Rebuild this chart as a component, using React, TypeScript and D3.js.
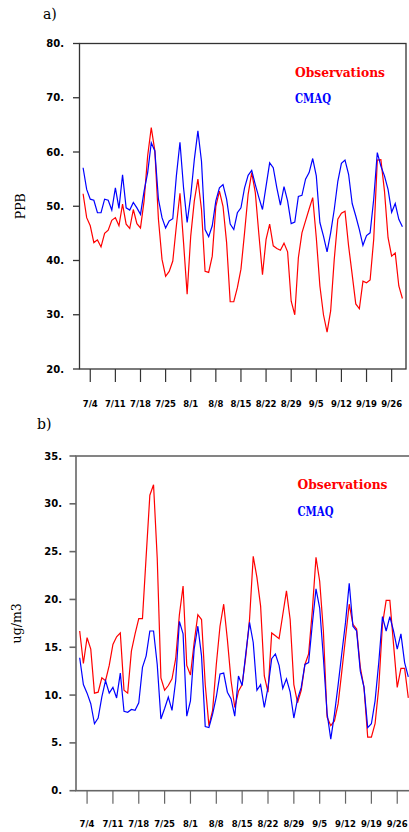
import React from "react";
import { scaleTime, scaleLinear, line, timeDay } from "d3";

// daily values, 7/2 through 9/29
const o3Obs = [
  52.3, 47.9, 46.4, 43.3, 43.8, 42.5, 45.0, 45.6, 47.4, 47.9,
  46.4, 50.4, 46.7, 45.9, 49.4, 46.8, 46.0, 51.0, 59.3, 64.5,
  60.2, 47.6, 40.2, 37.1, 38.0, 39.9, 46.4, 52.4, 43.3, 33.8,
  44.5, 51.0, 55.0, 49.4, 38.0, 37.8, 40.8, 50.0, 52.8, 50.0,
  43.3, 32.4, 32.4, 35.0, 38.4, 45.1, 52.2, 56.2, 52.5, 44.8,
  37.4, 43.9, 46.7, 42.7, 42.2, 41.9, 43.2, 41.6, 32.5, 30.0,
  40.5, 45.1, 47.3, 49.5, 51.6, 44.2, 35.3, 30.0, 26.8, 30.7,
  40.2, 47.6, 48.7, 49.1, 42.7, 37.4, 32.0, 31.1, 36.2, 35.9,
  36.4, 43.9, 58.5, 58.6, 52.8, 44.2, 40.8, 41.4, 35.3, 33.0,
];
const o3Cmaq = [
  57.1, 53.1, 51.3, 51.1, 48.8, 48.8, 51.3, 51.1, 49.3, 53.4,
  49.6, 55.8, 49.7, 49.3, 50.7, 49.7, 48.5, 52.8, 56.2, 61.7,
  60.2, 51.3, 47.9, 46.0, 47.3, 47.7, 55.6, 61.8, 53.4, 47.0,
  51.9, 58.6, 63.9, 58.3, 45.7, 44.4, 46.4, 51.0, 53.4, 54.0,
  51.3, 46.7, 45.7, 48.8, 49.7, 53.4, 55.7, 56.6, 54.0, 51.6,
  49.4, 53.7, 58.0, 57.1, 53.4, 50.2, 53.6, 51.0, 46.8, 47.1,
  51.8, 52.0, 55.0, 56.2, 58.8, 55.6, 47.0, 44.5, 41.6, 45.1,
  49.4, 54.6, 57.9, 58.5, 55.9, 50.5, 48.2, 45.7, 42.8, 44.6,
  45.1, 51.3, 59.9, 57.4, 55.6, 53.1, 48.9, 50.5, 47.6, 46.2,
];
const pmObs = [
  16.7, 13.3, 16.0, 14.8, 10.2, 10.3, 11.8, 11.5, 13.1, 15.3,
  16.1, 16.5, 10.5, 10.2, 14.6, 16.4, 18.0, 18.0, 24.5, 30.9,
  32.0, 24.3, 11.8, 10.5, 11.0, 11.7, 13.8, 18.4, 21.4, 13.1,
  12.1, 15.5, 18.4, 17.9, 11.1, 6.8, 8.4, 13.2, 17.2, 19.5,
  15.8, 11.5, 8.7, 10.4, 11.1, 14.1, 17.9, 24.5, 22.3, 19.3,
  12.0, 10.3, 16.5, 16.2, 15.9, 18.4, 20.9, 17.9, 11.1, 9.2,
  10.5, 13.2, 14.3, 18.8, 24.4, 21.9, 16.7, 7.7, 6.8, 7.3,
  9.1, 12.5, 16.0, 19.5, 17.4, 16.9, 12.9, 10.8, 5.6, 5.6,
  7.0, 10.8, 17.4, 19.9, 19.9, 15.3, 10.8, 12.8, 12.8, 9.7,
];
const pmCmaq = [
  13.9, 11.1, 10.2, 9.1, 7.0, 7.6, 9.8, 11.5, 10.2, 10.8,
  9.7, 12.3, 8.3, 8.2, 8.5, 8.4, 9.2, 12.9, 14.1, 16.7,
  16.7, 13.2, 7.5, 8.6, 9.8, 8.4, 11.5, 17.7, 16.4, 7.8,
  9.4, 14.8, 17.2, 14.1, 6.7, 6.6, 8.0, 9.8, 12.2, 12.3,
  10.3, 9.6, 7.8, 12.0, 11.0, 14.4, 17.6, 15.5, 10.5, 11.1,
  8.7, 10.8, 13.8, 14.3, 13.1, 10.7, 11.7, 10.3, 7.6, 9.6,
  10.8, 13.2, 13.4, 17.4, 21.1, 19.1, 13.9, 8.1, 5.4, 8.0,
  11.1, 14.4, 17.6, 21.7, 17.2, 16.7, 12.5, 10.8, 6.6, 7.0,
  9.4, 13.4, 18.2, 16.7, 18.2, 16.7, 14.8, 16.4, 13.4, 11.9,
];

const tickLabels = ["7/4", "7/11", "7/18", "7/25", "8/1", "8/8", "8/15", "8/22", "8/29", "9/5", "9/12", "9/19", "9/26"];
const o3Ticks = [20, 30, 40, 50, 60, 70, 80];
const pmTicks = [0, 5, 10, 15, 20, 25, 30, 35];

const YEAR = 2001;
const firstDay = new Date(YEAR, 6, 2);
const parseMD = (s: string) => {
  const [m, d] = s.split("/").map(Number);
  return new Date(YEAR, m - 1, d);
};

const tickFont = "DejaVu Sans, sans-serif";
const serif = "DejaVu Serif, serif";

function Panel(props: any) {
  const { obs, cmaq, ticks, yDomain, box, title, titleY, ylabel, ylabelX, legendY, stroke, strokeW } = props;
  const x = scaleTime()
    .domain([new Date(YEAR, 6, 1), new Date(YEAR, 8, 30)])
    .range([box.left, box.right]);
  const y = scaleLinear().domain(yDomain).range([box.bottom, box.top]);
  const days = obs.map((_: number, i: number) => timeDay.offset(firstDay, i));
  const mk = (vals: number[]) =>
    line<number>()
      .x((_, i) => x(days[i]))
      .y((d) => y(d))(vals) || "";

  return (
    <g>
      <text x={box.title} y={titleY} fontFamily={serif} fontSize={14}>{title}</text>
      <text
        transform={`translate(${ylabelX},${(box.top + box.bottom) / 2}) rotate(-90)`}
        textAnchor="middle" fontFamily={serif} fontSize={12.5}>{ylabel}</text>

      <path d={mk(obs)} fill="none" stroke="#ff0000" strokeWidth={1.2} />
      <path d={mk(cmaq)} fill="none" stroke="#0000ff" strokeWidth={1.2} />

      <rect x={box.left} y={box.top} width={box.right - box.left} height={box.bottom - box.top}
        fill="none" stroke={stroke} strokeWidth={strokeW} />

      {ticks.map((t: number) => (
        <g key={t}>
          <line x1={box.left - 6.5} x2={box.left} y1={y(t)} y2={y(t)} stroke={stroke} strokeWidth={strokeW} />
          <text x={box.labelEnd} y={y(t) + 3.6} textAnchor="end" fontFamily={tickFont}
            fontWeight="bold" fontSize={10}>{`${t}.`}</text>
        </g>
      ))}

      {tickLabels.map((s) => {
        const xx = x(parseMD(s));
        return (
          <g key={s}>
            <line x1={xx} x2={xx} y1={box.bottom} y2={box.bottom + 13} stroke={stroke} strokeWidth={1.2} />
            <text x={xx} y={box.bottom + box.dateDy} textAnchor="middle" fontFamily={tickFont}
              fontWeight="bold" fontSize={8.5}>{s}</text>
          </g>
        );
      })}

      <text x={box.legendX} y={legendY[0]} fill="#ff0000" fontFamily={serif} fontWeight="bold"
        fontSize={12.5} textLength={90} lengthAdjust="spacingAndGlyphs">Observations</text>
      <text x={box.legendX} y={legendY[1]} fill="#0000ff" fontFamily={serif} fontWeight="bold"
        fontSize={12.5} textLength={36} lengthAdjust="spacingAndGlyphs">CMAQ</text>
    </g>
  );
}

export default function App() {
  return (
    <svg width={409} height={832} style={{ position: "absolute", left: 0, top: 0, background: "#fff" }}>
      <Panel
        obs={o3Obs} cmaq={o3Cmaq} ticks={o3Ticks} yDomain={[20, 80]}
        box={{ left: 79.5, right: 406, top: 43.5, bottom: 369, labelEnd: 64, dateDy: 38, legendX: 295, title: 43 }}
        title="a)" titleY={19} ylabel="PPB" ylabelX={25} legendY={[77, 103]}
        stroke="#333" strokeW={1.3}
      />
      <Panel
        obs={pmObs} cmaq={pmCmaq} ticks={pmTicks} yDomain={[0, 35]}
        box={{ left: 76, right: 412, top: 456, bottom: 790.7, labelEnd: 62, dateDy: 36, legendX: 297.5, title: 37 }}
        title="b)" titleY={429} ylabel="ug/m3" ylabelX={21} legendY={[488.5, 516]}
        stroke="#666" strokeW={1.6}
      />
    </svg>
  );
}
